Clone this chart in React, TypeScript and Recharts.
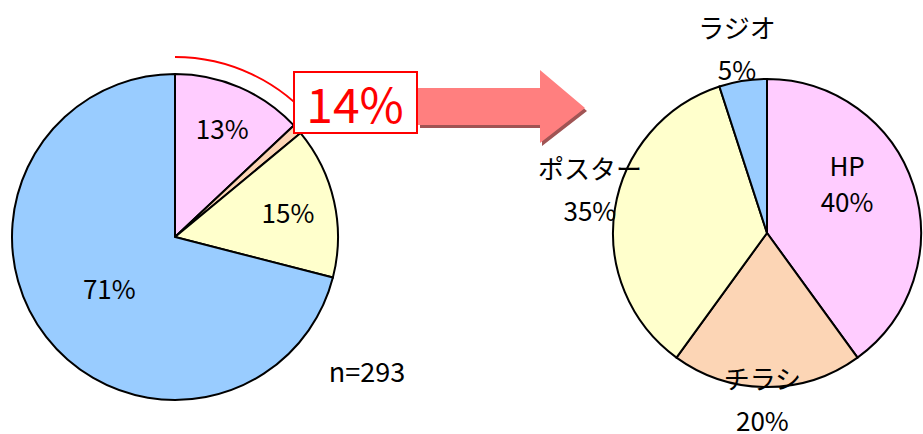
import { PieChart, Pie, Cell } from 'recharts'

const leftNames = ['区分A', '区分B', '区分C', '区分D']
const leftValues = [13, 1, 15, 71]
const leftShown = [true, false, true, true]

const rightNames = ['HP', 'チラシ', 'ポスター', 'ラジオ']
const rightValues = [40, 20, 35, 5]

const highlightValues = [14]
const highlightText = '14%'
const sampleText = 'n=293'

const leftColors = ['#ffccff', '#fcd5b5', '#ffffcc', '#99ccff']
const rightColors = ['#ffccff', '#fcd5b5', '#ffffcc', '#99ccff']

// where each label sits (radius fraction along the slice middle)
const leftLabelRadius = [0.73, 0.7, 0.71, 0.51]
// right labels are placed by offset from the centre, in fractions of the radius
const rightLabelOffset: [number, number][] = [
  [0.52, -0.33],
  [-0.03, 1.07],
  [-1.15, -0.29],
  [-0.195, -1.21],
]

const leftData = leftNames.map((name, i) => ({ name, value: leftValues[i] }))
const rightData = rightNames.map((name, i) => ({ name, value: rightValues[i] }))
const arcData = highlightValues.map((value) => ({ name: 'arc', value }))

const FONT = "'Noto Sans CJK JP', 'Noto Sans', sans-serif"
const RADIAN = Math.PI / 180

function LeftLabel(props: any) {
  const { cx, cy, midAngle, outerRadius, index, value } = props
  if (!leftShown[index]) return null
  const r = outerRadius * leftLabelRadius[index]
  const x = cx + r * Math.cos(-midAngle * RADIAN)
  const y = cy + r * Math.sin(-midAngle * RADIAN)
  return (
    <text x={x} y={y} textAnchor="middle" dominantBaseline="central" fontSize={26} fontFamily={FONT} fill="#000">
      {`${value}%`}
    </text>
  )
}

function RightLabel(props: any) {
  const { cx, cy, outerRadius, index, name, value } = props
  const [fx, fy] = rightLabelOffset[index]
  const x = cx + fx * outerRadius
  const y = cy + fy * outerRadius
  const gap = index === 0 ? 18 : 21
  return (
    <text textAnchor="middle" dominantBaseline="central" fontSize={26} fontFamily={FONT} fill="#000">
      <tspan x={x} y={y - gap}>{name}</tspan>
      <tspan x={x} y={y + gap}>{`${value}%`}</tspan>
    </text>
  )
}

function Overlay() {
  return (
    <svg width={923} height={434} style={{ position: 'absolute', left: 0, top: 0, pointerEvents: 'none' }}>
      {/* arrow shadow + arrow */}
      <path d="M 420 91 L 542 91 L 542 73 L 587 111 L 542 146 L 542 128 L 420 128 Z" fill="#a05454" />
      <path d="M 418 88 L 540 88 L 540 70 L 585 108 L 540 143 L 540 125 L 418 125 Z" fill="#ff7f7f" />
      <rect x={294} y={72} width={123} height={61} fill="#fff" stroke="#ff0000" strokeWidth={2} />
      <text x={355} y={102} textAnchor="middle" dominantBaseline="central" fontSize={48} fontFamily={FONT} fill="#ff0000">
        {highlightText}
      </text>
      <text x={367} y={370} textAnchor="middle" dominantBaseline="central" fontSize={27} fontFamily={FONT} fill="#000">
        {sampleText}
      </text>
    </svg>
  )
}

export default function App() {
  return (
    <div style={{ position: 'absolute', left: 0, top: 0, width: 923, height: 434, background: '#fff' }}>
      <PieChart width={923} height={434} margin={{ top: 0, right: 0, bottom: 0, left: 0 }}>
        <Pie
          data={arcData}
          dataKey="value"
          cx={175}
          cy={237}
          innerRadius={180}
          outerRadius={180}
          startAngle={90}
          endAngle={90 - 3.6 * highlightValues[0]}
          fill="none"
          stroke="#ff0000"
          strokeWidth={2}
          isAnimationActive={false}
        />
        <Pie
          data={leftData}
          dataKey="value"
          cx={175}
          cy={237}
          outerRadius={163}
          startAngle={90}
          endAngle={-270}
          stroke="#000"
          strokeWidth={2}
          label={LeftLabel}
          labelLine={false}
          isAnimationActive={false}
        >
          {leftData.map((d, i) => (
            <Cell key={d.name} fill={leftColors[i]} />
          ))}
        </Pie>
        <Pie
          data={rightData}
          dataKey="value"
          cx={767}
          cy={233}
          outerRadius={154}
          startAngle={90}
          endAngle={-270}
          stroke="#000"
          strokeWidth={2}
          label={RightLabel}
          labelLine={false}
          isAnimationActive={false}
        >
          {rightData.map((d, i) => (
            <Cell key={d.name} fill={rightColors[i]} />
          ))}
        </Pie>
      </PieChart>
      <Overlay />
    </div>
  )
}
